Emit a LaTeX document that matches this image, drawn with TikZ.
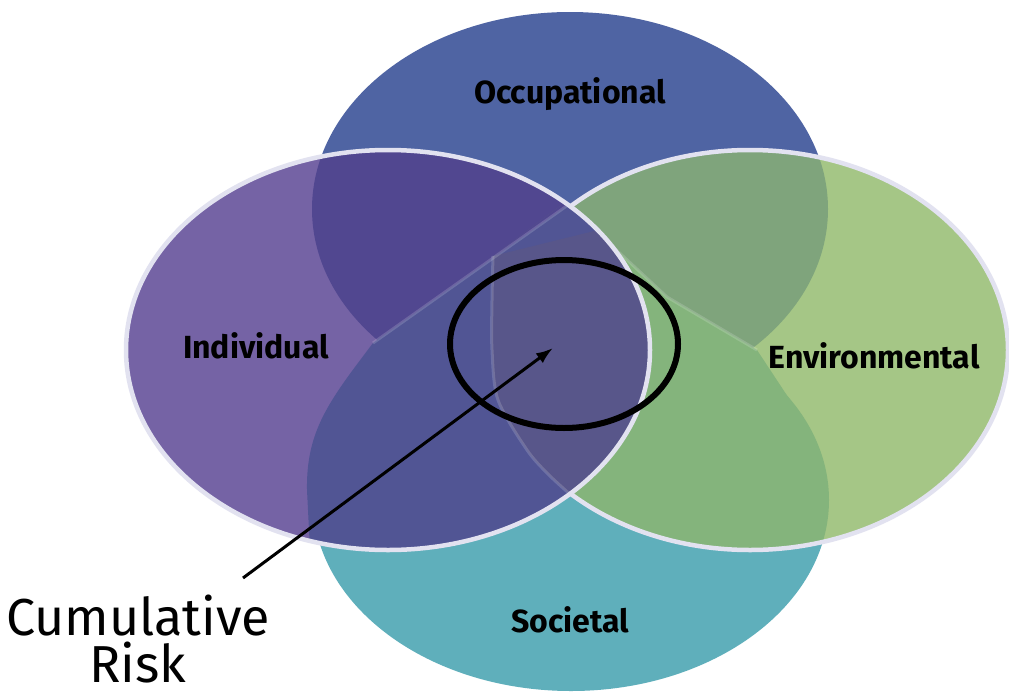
\documentclass[tikz,border=0pt]{standalone}
\usepackage{fontspec}
\setmainfont{Fira Sans}
\usetikzlibrary{arrows.meta,shapes.geometric}

% fills of the four sets and of their overlaps
\definecolor{occ}{HTML}{4F64A3}
\definecolor{soc}{HTML}{5FAFBB}
\definecolor{ind}{HTML}{7563A5}
\definecolor{env}{HTML}{A5C686}
\definecolor{indocc}{HTML}{514790}
\definecolor{indsoc}{HTML}{515594}
\definecolor{corefill}{HTML}{58568A}
\definecolor{envocc}{HTML}{7FA47C}
\definecolor{envsoc}{HTML}{84B47C}
\definecolor{rim}{HTML}{E2E2F0}

% set outlines (1pt = one unit, y grows downwards)
\def\occpath{(570,209) ellipse [x radius=258, y radius=197]}
\def\socpath{(571,500) ellipse [x radius=258, y radius=191]}
\def\indpath{(388,350) ellipse [x radius=262, y radius=200]}
\def\envpath{(750,350) ellipse [x radius=258, y radius=200]}
% upper wedge of the societal set inside the side ellipses
\def\cappath{(373,343) -- (568,205) -- (667,297) -- (757,350) -- (790,400) -- (571,560) -- (310,550)
  -- (307,490) .. controls (306,430) and (330,400) .. (373,343) -- cycle}
% shared core of individual and environmental
\def\corepath{(568,200) -- (493,256) plot[smooth] coordinates {(493,256) (492,300) (492,350) (498,400) (527,450) (549,475) (572,496)} -- (720,496) -- (720,200) -- cycle}

\begin{document}
\begin{tikzpicture}[x=1pt,y=-1pt,
  setlabel/.style={font=\fontsize{32}{32}\selectfont\bfseries, text=black, anchor=base, inner sep=0pt},
  rimline/.style={draw=rim, line width=4.5pt},
  ghost/.style={draw=white, draw opacity=0.16, line width=3pt},
]
\useasboundingbox (0,0) rectangle (1009,696);
\fill[white] (0,0) rectangle (1009,696);

% top and bottom sets
\fill[occ] \occpath;
\fill[soc] \socpath;

% environmental set with its overlaps
\fill[env] \envpath;
\begin{scope}
  \clip \envpath;
  \fill[envocc] \occpath;
  \fill[envsoc] \socpath;
  \fill[envsoc] \cappath;
  \draw[ghost] (568,205) -- (667,297) -- (757,350);
\end{scope}
\draw[rimline] \envpath;

% individual set with its overlaps
\fill[ind] \indpath;
\begin{scope}
  \clip \indpath;
  \fill[indocc] \occpath;
  \fill[indsoc] \socpath;
  \fill[indsoc] \cappath;
  \fill[corefill] \corepath;
  \draw[ghost] (373,343) -- (568,205);
  \draw[ghost] plot[smooth] coordinates {(493,256) (492,300) (492,350) (498,400) (527,450) (549,475) (572,496)};
\end{scope}
\draw[rimline] \indpath;

% set labels
\node[setlabel] (occlabel) at (570,103) {Occupational};
\node[setlabel] (indlabel) at (256,358) {Individual};
\node[setlabel] (envlabel) at (874,368) {Environmental};
\node[setlabel] (soclabel) at (570,632) {Societal};

% cumulative risk marker
\node[draw=black, line width=6pt, ellipse, inner sep=0pt,
      minimum width=228pt, minimum height=168pt] (ring) at (564,344) {};
\coordinate (focus) at (553,348);
\coordinate (tail) at (243,578);
\draw[line width=3pt, -{Latex[length=17pt,width=12pt]}] (tail) -- (focus);

\node[font=\fontsize{52}{47}\selectfont, align=center, anchor=north, inner sep=0pt]
  (risklabel) at (138,595) {Cumulative\\Risk};
\end{tikzpicture}
\end{document}
